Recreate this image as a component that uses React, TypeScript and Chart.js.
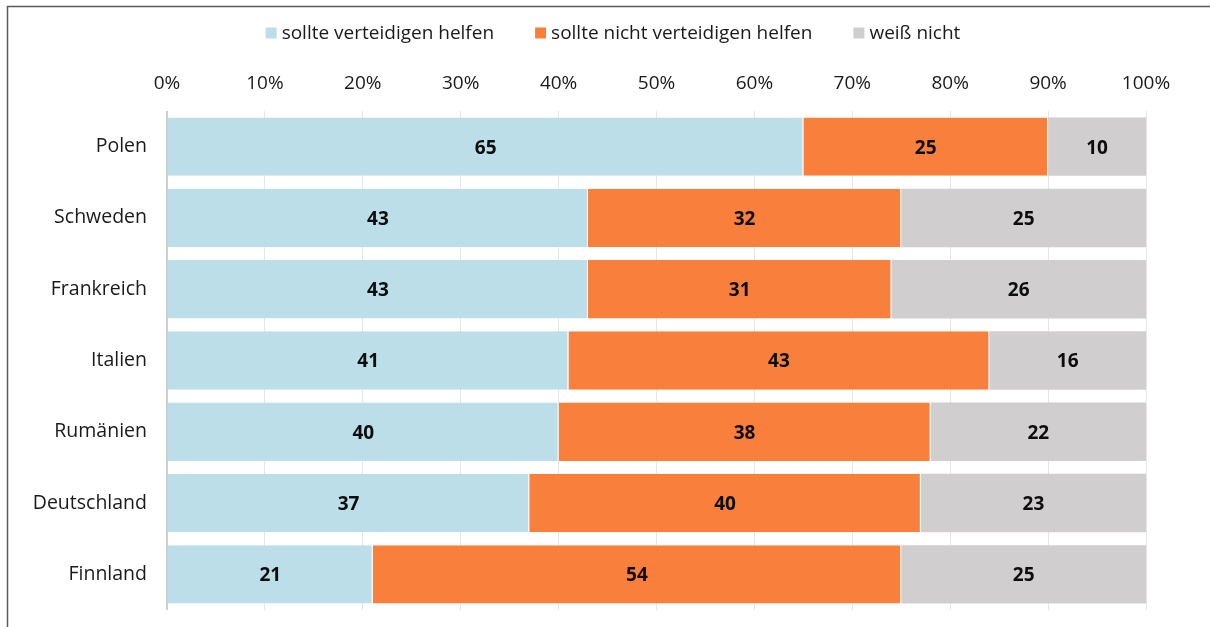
import React, { useEffect, useRef } from "react";
import { Chart, registerables } from "chart.js";

Chart.register(...registerables);

const categories = ["Polen", "Schweden", "Frankreich", "Italien", "Rumänien", "Deutschland", "Finnland"];
const seriesLabels = ["sollte verteidigen helfen", "sollte nicht verteidigen helfen", "weiß nicht"];
const shouldHelp = [65, 43, 43, 41, 40, 37, 21];
const shouldNotHelp = [25, 32, 31, 43, 38, 40, 54];
const dontKnow = [10, 25, 26, 16, 22, 23, 25];
const seriesColors = ["#BBDEE8", "#F8803C", "#D0CECE"];
const tickValues = [0, 10, 20, 30, 40, 50, 60, 70, 80, 90, 100];

const FONT = "'Open Sans', sans-serif";

const framePlugin = {
  id: "frame",
  beforeDraw(chart: any) {
    const ctx = chart.ctx;
    ctx.save();
    ctx.fillStyle = "#ffffff";
    ctx.fillRect(0, 0, chart.width, chart.height);
    ctx.strokeStyle = "#5a5a5a";
    ctx.lineWidth = 1.5;
    ctx.strokeRect(7.5, 6.5, chart.width + 50, chart.height + 50);
    ctx.restore();
  },
};

const legendPlugin = {
  id: "customLegend",
  afterDraw(chart: any) {
    const ctx = chart.ctx;
    ctx.save();
    ctx.font = `19px ${FONT}`;
    const box = 11;
    const boxGap = 5;
    const itemGap = 41;
    const items = chart.data.datasets.map((ds: any) => ({
      text: ds.label,
      color: ds.backgroundColor,
      w: box + boxGap + ctx.measureText(ds.label).width,
    }));
    const total = items.reduce((s: number, it: any) => s + it.w, 0) + itemGap * (items.length - 1);
    let x = 613 - total / 2;
    const cy = 33;
    items.forEach((it: any) => {
      ctx.fillStyle = it.color;
      ctx.fillRect(x, cy - box / 2, box, box);
      ctx.fillStyle = "#1a1a1a";
      ctx.textBaseline = "middle";
      ctx.textAlign = "left";
      ctx.fillText(it.text, x + box + boxGap, cy + 1);
      x += it.w + itemGap;
    });
    ctx.restore();
  },
};

const valueLabelPlugin = {
  id: "valueLabels",
  afterDatasetsDraw(chart: any) {
    const ctx = chart.ctx;
    ctx.save();
    ctx.font = `bold 19px ${FONT}`;
    ctx.fillStyle = "#0d0d0d";
    ctx.textAlign = "center";
    ctx.textBaseline = "middle";
    chart.data.datasets.forEach((ds: any, di: number) => {
      const meta = chart.getDatasetMeta(di);
      meta.data.forEach((el: any, i: number) => {
        const c = el.getCenterPoint();
        ctx.fillText(String(ds.data[i]), c.x, c.y + 1.5);
      });
    });
    ctx.restore();
  },
};

export default function App() {
  const ref = useRef<HTMLCanvasElement | null>(null);

  useEffect(() => {
    if (!ref.current) return;
    const mk = (label: string, data: number[], color: string, sep: boolean) => ({
      label,
      data,
      backgroundColor: color,
      borderColor: "#ffffff",
      borderWidth: { top: 0, bottom: 0, left: 0, right: sep ? 1 : 0 },
      borderSkipped: false,
      categoryPercentage: 1,
      barPercentage: 0.82,
    });
    const chart = new Chart(ref.current, {
      type: "bar",
      data: {
        labels: categories,
        datasets: [
          mk(seriesLabels[0], shouldHelp, seriesColors[0], true),
          mk(seriesLabels[1], shouldNotHelp, seriesColors[1], true),
          mk(seriesLabels[2], dontKnow, seriesColors[2], false),
        ],
      },
      options: {
        indexAxis: "y",
        animation: false,
        responsive: false,
        layout: { padding: { top: 0, left: 0, right: 64, bottom: 17 } },
        plugins: {
          legend: { display: false },
          tooltip: { enabled: false },
        },
        scales: {
          x: {
            position: "top",
            stacked: true,
            min: 0,
            max: 100,
            afterBuildTicks: (scale: any) => {
              scale.ticks = tickValues.map((v) => ({ value: v }));
            },
            afterFit: (scale: any) => {
              scale.height = 111;
              scale.paddingLeft = 0;
              scale.paddingRight = 0;
            },
            ticks: {
              padding: 16,
              color: "#1a1a1a",
              font: { family: FONT, size: 19 },
              callback: (v: any) => `${v}%`,
            },
            grid: {
              drawTicks: false,
              color: (c: any) => (c.tick && c.tick.value === 0 ? "#cfcfcf" : "#e6e6e6"),
              lineWidth: (c: any) => (c.tick && c.tick.value === 0 ? 2 : 1),
            },
            border: { display: false },
          },
          y: {
            stacked: true,
            afterFit: (scale: any) => {
              scale.width = 167;
              scale.paddingTop = 0;
              scale.paddingBottom = 0;
            },
            ticks: {
              padding: 20,
              color: "#1a1a1a",
              font: { family: FONT, size: 19.5 },
            },
            grid: { display: false, drawTicks: false },
            border: { display: false },
          },
        },
      } as any,
      plugins: [framePlugin, legendPlugin, valueLabelPlugin],
    });
    return () => chart.destroy();
  }, []);

  return (
    <div style={{ position: "absolute", left: 0, top: 0, width: 1210, height: 627, overflow: "hidden" }}>
      <canvas ref={ref} width={1210} height={627} style={{ display: "block" }} />
    </div>
  );
}
